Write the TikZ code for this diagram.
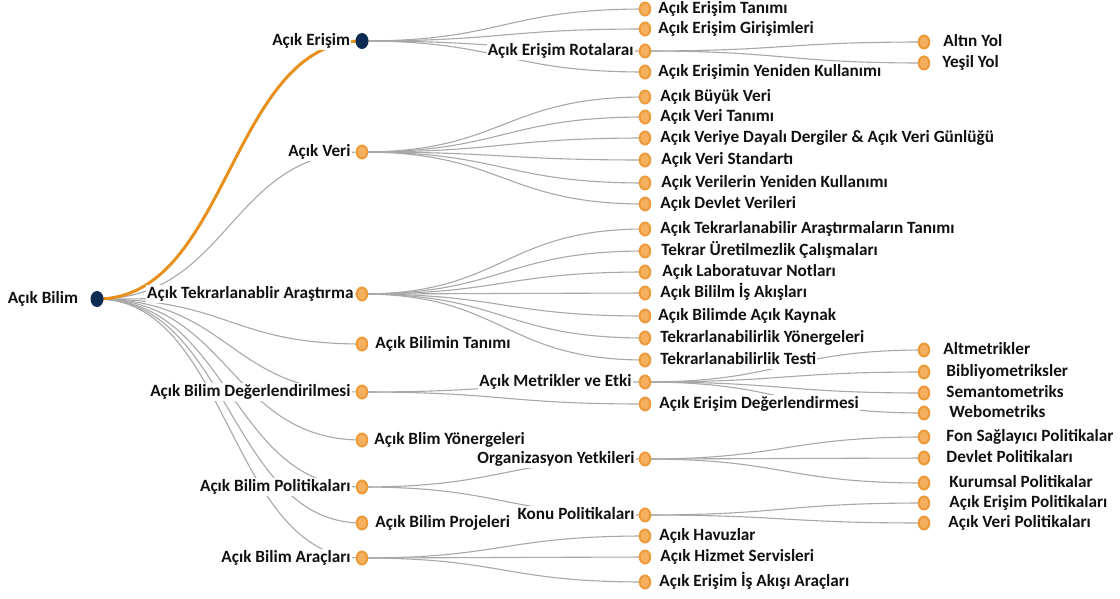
\documentclass[tikz,border=0pt]{standalone}
\usepackage{fontspec}
\setmainfont{Carlito}
\usepackage{tikz}
\usetikzlibrary{positioning,calc,backgrounds,shapes.geometric}
\definecolor{ndnavy}{HTML}{0D2C54}
\definecolor{ndorange}{HTML}{EC9A3A}
\definecolor{ndlight}{HTML}{F4B05E}
\definecolor{ndlink}{HTML}{A8A8A8}
\definecolor{ndpath}{HTML}{E8901C}
\definecolor{ndtext}{HTML}{111111}
\newcommand{\branch}[3][]{\draw[link,#1] let \p1=(#2.center),\p2=(#3.center) in
  (\p1) .. controls ({0.5*\x1+0.5*\x2},\y1) and ({0.5*\x1+0.5*\x2},\y2) .. (\p2);}

\begin{document}
\begin{tikzpicture}[
      x=1pt,y=-1pt,
      font=\fontsize{17.2}{19}\selectfont\bfseries,
      odot/.style={ellipse,draw=ndorange,fill=ndlight,line width=2pt,minimum width=10.5pt,minimum height=13pt,inner sep=0pt},
      ndot/.style={ellipse,fill=ndnavy,minimum width=13pt,minimum height=16pt,inner sep=0pt},
      lbl/.style={fill=white,text=ndtext,inner xsep=1pt,inner ysep=1pt,text height=12.5pt,text depth=4pt},
      link/.style={draw=ndlink,line width=1.1pt},
      hot/.style={draw=ndpath,line width=3pt}
    ]
    \useasboundingbox (0,0) rectangle (1120,598);
    % root
    \node[ndot] (bilim) at (97,299) {};
    \node[lbl,left=11pt of bilim] (bilimL) {Açık Bilim};
    % level 1
    \node[ndot] (erisim) at (362,41) {};
    \node[lbl,left=4pt of erisim] (erisimL) {Açık Erişim};
    \node[odot] (veri) at (362,152) {};
    \node[lbl,left=4pt of veri] (veriL) {Açık Veri};
    \node[odot] (tekrar) at (362,294) {};
    \node[lbl,left=1pt of tekrar] (tekrarL) {Açık Tekrarlanablir Araştırma};
    \node[odot] (tanim) at (362,344) {};
    \node[lbl,right=6pt of tanim] (tanimL) {Açık Bilimin Tanımı};
    \node[odot] (deger) at (362,392) {};
    \node[lbl,left=4pt of deger] (degerL) {Açık Bilim Değerlendirilmesi};
    \node[odot] (yonerge) at (362,440) {};
    \node[lbl,right=5pt of yonerge] (yonergeL) {Açık Blim Yönergeleri};
    \node[odot] (politika) at (362,487) {};
    \node[lbl,left=4pt of politika] (politikaL) {Açık Bilim Politikaları};
    \node[odot] (proje) at (362,523) {};
    \node[lbl,right=6pt of proje] (projeL) {Açık Bilim Projeleri};
    \node[odot] (arac) at (362,558) {};
    \node[lbl,left=4pt of arac] (aracL) {Açık Bilim Araçları};
    % level 2 - acik erisim
    \node[odot] (aeTanim) at (645,9) {};
    \node[lbl,right=6pt of aeTanim] (aeTanimL) {Açık Erişim Tanımı};
    \node[odot] (aeGiris) at (645,29) {};
    \node[lbl,right=6pt of aeGiris] (aeGirisL) {Açık Erişim Girişimleri};
    \node[odot] (aeRota) at (645,51) {};
    \node[lbl,left=4pt of aeRota] (aeRotaL) {Açık Erişim Rotalaraı};
    \node[odot] (aeYeni) at (645,72) {};
    \node[lbl,right=6pt of aeYeni] (aeYeniL) {Açık Erişimin Yeniden Kullanımı};
    % level 2 - acik veri
    \node[odot] (vBuyuk) at (645,97) {};
    \node[lbl,right=8pt of vBuyuk] (vBuyukL) {Açık Büyük Veri};
    \node[odot] (vTanim) at (645,117) {};
    \node[lbl,right=8pt of vTanim] (vTanimL) {Açık Veri Tanımı};
    \node[odot] (vDergi) at (645,138) {};
    \node[lbl,right=8pt of vDergi] (vDergiL) {Açık Veriye Dayalı Dergiler \& Açık Veri Günlüğü};
    \node[odot] (vStd) at (645,160) {};
    \node[lbl,right=9pt of vStd] (vStdL) {Açık Veri Standartı};
    \node[odot] (vYeni) at (645,183) {};
    \node[lbl,right=9pt of vYeni] (vYeniL) {Açık Verilerin Yeniden Kullanımı};
    \node[odot] (vDevlet) at (645,204) {};
    \node[lbl,right=8pt of vDevlet] (vDevletL) {Açık Devlet Verileri};
    % level 2 - tekrarlanabilir arastirma
    \node[odot] (tTanim) at (645,229) {};
    \node[lbl,right=8pt of tTanim] (tTanimL) {Açık Tekrarlanabilir Araştırmaların Tanımı};
    \node[odot] (tUret) at (645,251) {};
    \node[lbl,right=9pt of tUret] (tUretL) {Tekrar Üretilmezlik Çalışmaları};
    \node[odot] (tLab) at (645,272) {};
    \node[lbl,right=10pt of tLab] (tLabL) {Açık Laboratuvar Notları};
    \node[odot] (tAkis) at (645,293) {};
    \node[lbl,right=8pt of tAkis] (tAkisL) {Açık Bililm İş Akışları};
    \node[odot] (tKaynak) at (645,316) {};
    \node[lbl,right=6pt of tKaynak] (tKaynakL) {Açık Bilimde Açık Kaynak};
    \node[odot] (tYon) at (645,338) {};
    \node[lbl,right=8pt of tYon] (tYonL) {Tekrarlanabilirlik Yönergeleri};
    \node[odot] (tTest) at (645,360) {};
    \node[lbl,right=8pt of tTest] (tTestL) {Tekrarlanabilirlik Testi};
    % level 2 - degerlendirme
    \node[odot] (metrik) at (645,382) {};
    \node[lbl,left=6pt of metrik] (metrikL) {Açık Metrikler ve Etki};
    \node[odot] (aeDeger) at (645,404) {};
    \node[lbl,right=7pt of aeDeger] (aeDegerL) {Açık Erişim Değerlendirmesi};
    % level 2 - politikalar
    \node[odot] (org) at (645,459) {};
    \node[lbl,left=3pt of org] (orgL) {Organizasyon Yetkileri};
    \node[odot] (konu) at (645,515) {};
    \node[lbl,left=3pt of konu] (konuL) {Konu Politikaları};
    % level 2 - araclar
    \node[odot] (havuz) at (645,536) {};
    \node[lbl,right=7pt of havuz] (havuzL) {Açık Havuzlar};
    \node[odot] (hizmet) at (645,557) {};
    \node[lbl,right=8pt of hizmet] (hizmetL) {Açık Hizmet Servisleri};
    \node[odot] (akis) at (645,582) {};
    \node[lbl,right=7pt of akis] (akisL) {Açık Erişim İş Akışı Araçları};
    % level 3
    \node[odot] (altin) at (924,42) {};
    \node[lbl,right=12pt of altin] (altinL) {Altın Yol};
    \node[odot] (yesil) at (924,63) {};
    \node[lbl,right=11pt of yesil] (yesilL) {Yeşil Yol};
    \node[odot] (altmet) at (924,350) {};
    \node[lbl,right=12pt of altmet] (altmetL) {Altmetrikler};
    \node[odot] (biblio) at (924,372) {};
    \node[lbl,right=15pt of biblio] (biblioL) {Bibliyometriksler};
    \node[odot] (semanto) at (924,393) {};
    \node[lbl,right=15pt of semanto] (semantoL) {Semantometriks};
    \node[odot] (webo) at (924,413) {};
    \node[lbl,right=18pt of webo] (weboL) {Webometriks};
    \node[odot] (fon) at (924,437) {};
    \node[lbl,right=15pt of fon] (fonL) {Fon Sağlayıcı Politikalar};
    \node[odot] (devlet) at (924,458) {};
    \node[lbl,right=15pt of devlet] (devletL) {Devlet Politikaları};
    \node[odot] (kurum) at (924,483) {};
    \node[lbl,right=18pt of kurum] (kurumL) {Kurumsal Politikalar};
    \node[odot] (aePol) at (924,503) {};
    \node[lbl,right=18pt of aePol] (aePolL) {Açık Erişim Politikaları};
    \node[odot] (vPol) at (924,523) {};
    \node[lbl,right=17pt of vPol] (vPolL) {Açık Veri Politikaları};
    % links
    \begin{scope}[on background layer]
      \branch{bilim}{veri}
      \branch{bilim}{tekrar}
      \branch{bilim}{tanim}
      \branch{bilim}{deger}
      \branch{bilim}{yonerge}
      \branch{bilim}{politika}
      \branch{bilim}{proje}
      \branch{bilim}{arac}
      \branch{erisim}{aeTanim}
      \branch{erisim}{aeGiris}
      \branch{erisim}{aeRota}
      \branch{erisim}{aeYeni}
      \branch{aeRota}{altin}
      \branch{aeRota}{yesil}
      \branch{veri}{vBuyuk}
      \branch{veri}{vTanim}
      \branch{veri}{vDergi}
      \branch{veri}{vStd}
      \branch{veri}{vYeni}
      \branch{veri}{vDevlet}
      \branch{tekrar}{tTanim}
      \branch{tekrar}{tUret}
      \branch{tekrar}{tLab}
      \branch{tekrar}{tAkis}
      \branch{tekrar}{tKaynak}
      \branch{tekrar}{tYon}
      \branch{tekrar}{tTest}
      \branch{deger}{metrik}
      \branch{deger}{aeDeger}
      \branch{metrik}{altmet}
      \branch{metrik}{biblio}
      \branch{metrik}{semanto}
      \branch{metrik}{webo}
      \branch{politika}{org}
      \branch{politika}{konu}
      \branch{org}{fon}
      \branch{org}{devlet}
      \branch{org}{kurum}
      \branch{konu}{aePol}
      \branch{konu}{vPol}
      \branch{arac}{havuz}
      \branch{arac}{hizmet}
      \branch{arac}{akis}
      \branch[hot]{bilim}{erisim}
    \end{scope}
  \end{tikzpicture}
\end{document}
